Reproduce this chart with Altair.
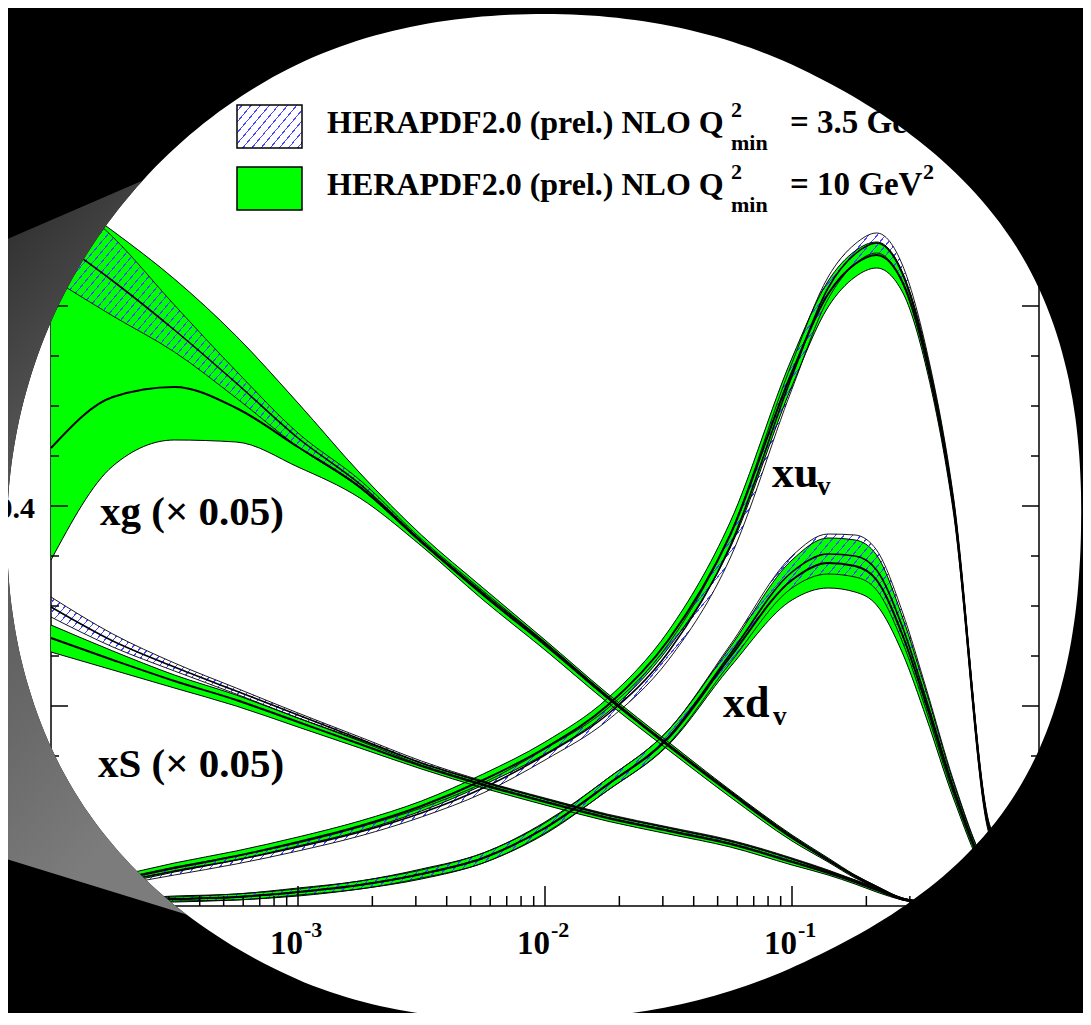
import math
import pandas as pd
import altair as alt

# ---------------- values ----------------
X = [1e-4, 1.78e-4, 3.16e-4, 5.62e-4, 1e-3, 1.78e-3, 3.16e-3, 5.62e-3, 1e-2, 1.78e-2,
     3.16e-2, 5.62e-2, 0.1, 0.14, 0.18, 0.22, 0.28, 0.35, 0.45, 0.63, 1.0]

# xg (x 0.05): green = Q2min 10 GeV2, hatched = Q2min 3.5 GeV2
XG_G_HI = [0.719, 0.675, 0.627, 0.570, 0.503, 0.433, 0.371, 0.318, 0.266, 0.213, 0.164, 0.116, 0.071, 0.048, 0.031, 0.020, 0.008, 0.004, 0.002, 0.0005, 0.0]
XG_G_MID = [0.458, 0.509, 0.519, 0.498, 0.459, 0.419, 0.364, 0.311, 0.261, 0.209, 0.160, 0.113, 0.068, 0.046, 0.030, 0.019, 0.007, 0.0035, 0.0015, 0.0004, 0.0]
XG_G_LO = [0.346, 0.440, 0.466, 0.464, 0.439, 0.408, 0.360, 0.306, 0.256, 0.204, 0.156, 0.109, 0.065, 0.044, 0.028, 0.018, 0.006, 0.003, 0.001, 0.0003, 0.0]
XG_H_HI = [0.721, 0.669, 0.601, 0.535, 0.473, 0.426, 0.367, 0.315, 0.264, 0.211, 0.162, 0.115, 0.070, 0.047, 0.030, 0.019, 0.007, 0.0035, 0.0015, 0.0004, 0.0]
XG_H_MID = [0.670, 0.625, 0.576, 0.523, 0.468, 0.422, 0.365, 0.313, 0.263, 0.210, 0.161, 0.114, 0.069, 0.046, 0.030, 0.019, 0.007, 0.0033, 0.0013, 0.0004, 0.0]
XG_H_LO = [0.628, 0.590, 0.554, 0.508, 0.459, 0.418, 0.363, 0.311, 0.261, 0.208, 0.160, 0.113, 0.068, 0.045, 0.029, 0.018, 0.006, 0.003, 0.001, 0.0003, 0.0]

# xS (x 0.05)
XS_G_HI = [0.281, 0.255, 0.231, 0.211, 0.188, 0.166, 0.143, 0.124, 0.107, 0.091, 0.078, 0.065, 0.047, 0.035, 0.026, 0.018, 0.008, 0.004, 0.0015, 0.0003, 0.0]
XS_G_MID = [0.268, 0.246, 0.225, 0.206, 0.184, 0.162, 0.140, 0.121, 0.104, 0.088, 0.075, 0.062, 0.044, 0.033, 0.024, 0.016, 0.007, 0.003, 0.001, 0.0002, 0.0]
XS_G_LO = [0.254, 0.236, 0.218, 0.200, 0.179, 0.158, 0.137, 0.118, 0.101, 0.085, 0.072, 0.059, 0.041, 0.031, 0.022, 0.014, 0.006, 0.002, 0.0007, 0.0001, 0.0]
XS_H_HI = [0.309, 0.272, 0.243, 0.218, 0.193, 0.169, 0.145, 0.125, 0.108, 0.092, 0.079, 0.066, 0.048, 0.036, 0.026, 0.018, 0.008, 0.004, 0.0015, 0.0003, 0.0]
XS_H_MID = [0.299, 0.265, 0.239, 0.215, 0.191, 0.167, 0.143, 0.124, 0.107, 0.091, 0.078, 0.065, 0.047, 0.035, 0.025, 0.017, 0.0075, 0.0035, 0.0012, 0.0002, 0.0]
XS_H_LO = [0.289, 0.259, 0.235, 0.212, 0.188, 0.165, 0.141, 0.122, 0.105, 0.089, 0.076, 0.063, 0.045, 0.034, 0.024, 0.016, 0.007, 0.003, 0.001, 0.0001, 0.0]

# xu_v
XU_G_HI = [0.016, 0.029, 0.043, 0.055, 0.069, 0.085, 0.105, 0.132, 0.164, 0.207, 0.275, 0.384, 0.548, 0.625, 0.655, 0.664, 0.634, 0.554, 0.408, 0.081, 0.0]
XU_G_MID = [0.013, 0.025, 0.038, 0.050, 0.064, 0.080, 0.100, 0.126, 0.158, 0.200, 0.266, 0.371, 0.534, 0.612, 0.642, 0.651, 0.624, 0.546, 0.401, 0.076, 0.0]
XU_G_LO = [0.010, 0.021, 0.034, 0.046, 0.060, 0.075, 0.095, 0.121, 0.152, 0.193, 0.258, 0.358, 0.520, 0.599, 0.629, 0.638, 0.614, 0.538, 0.394, 0.071, 0.0]
XU_H_HI = [0.015, 0.026, 0.039, 0.050, 0.063, 0.079, 0.098, 0.123, 0.157, 0.197, 0.262, 0.372, 0.543, 0.629, 0.662, 0.673, 0.641, 0.557, 0.410, 0.082, 0.0]
XU_H_MID = [0.012, 0.023, 0.035, 0.046, 0.059, 0.074, 0.093, 0.118, 0.151, 0.191, 0.254, 0.360, 0.530, 0.618, 0.652, 0.663, 0.632, 0.550, 0.404, 0.078, 0.0]
XU_H_LO = [0.009, 0.020, 0.031, 0.042, 0.055, 0.070, 0.089, 0.113, 0.146, 0.185, 0.246, 0.348, 0.517, 0.607, 0.642, 0.653, 0.623, 0.543, 0.398, 0.074, 0.0]

# xd_v
XD_G_HI = [0.005, 0.007, 0.010, 0.012, 0.018, 0.025, 0.037, 0.053, 0.084, 0.127, 0.176, 0.259, 0.346, 0.368, 0.366, 0.351, 0.289, 0.214, 0.124, 0.035, 0.0]
XD_G_MID = [0.003, 0.005, 0.007, 0.009, 0.014, 0.021, 0.032, 0.048, 0.078, 0.121, 0.168, 0.249, 0.326, 0.343, 0.340, 0.326, 0.271, 0.201, 0.116, 0.031, 0.0]
XD_G_LO = [0.001, 0.003, 0.004, 0.006, 0.010, 0.017, 0.027, 0.043, 0.072, 0.115, 0.161, 0.239, 0.306, 0.318, 0.314, 0.301, 0.253, 0.188, 0.108, 0.027, 0.0]
XD_H_HI = [0.005, 0.007, 0.009, 0.012, 0.017, 0.025, 0.036, 0.053, 0.083, 0.127, 0.176, 0.261, 0.350, 0.372, 0.371, 0.356, 0.294, 0.217, 0.126, 0.035, 0.0]
XD_H_MID = [0.003, 0.005, 0.007, 0.009, 0.014, 0.021, 0.032, 0.048, 0.078, 0.121, 0.169, 0.252, 0.334, 0.352, 0.350, 0.336, 0.279, 0.206, 0.119, 0.032, 0.0]
XD_H_LO = [0.001, 0.003, 0.005, 0.006, 0.011, 0.017, 0.028, 0.043, 0.073, 0.115, 0.162, 0.243, 0.318, 0.332, 0.329, 0.316, 0.264, 0.195, 0.112, 0.029, 0.0]

PDF_NAMES = ["xg", "xS", "xuv", "xdv"]
PDF_VALUES = {
    "xg": (XG_G_LO, XG_G_MID, XG_G_HI, XG_H_LO, XG_H_MID, XG_H_HI),
    "xS": (XS_G_LO, XS_G_MID, XS_G_HI, XS_H_LO, XS_H_MID, XS_H_HI),
    "xuv": (XU_G_LO, XU_G_MID, XU_G_HI, XU_H_LO, XU_H_MID, XU_H_HI),
    "xdv": (XD_G_LO, XD_G_MID, XD_G_HI, XD_H_LO, XD_H_MID, XD_H_HI),
}

# text content
LEGEND_MAIN = ["HERAPDF2.0 (prel.) NLO Q", "HERAPDF2.0 (prel.) NLO Q"]
LEGEND_VALUE = ["= 3.5 GeV", "= 10 GeV"]
CURVE_LABELS = ["xg (\u00d7 0.05)", "xS (\u00d7 0.05)"]
CURVE_LABEL_X = [1.58e-4, 1.55e-4]
CURVE_LABEL_Y = [0.381, 0.129]
VALENCE_LABELS = ["xu", "xd"]
VALENCE_X = [0.0829, 0.0526]
VALENCE_Y = [0.419, 0.189]
VALENCE_SUB_X = [0.1262, 0.0838]
VALENCE_SUB_Y = [0.411, 0.181]
X_TICK_DECADES = [1e-3, 1e-2, 1e-1]
X_TICK_EXPONENTS = ["-3", "-2", "-1"]
Y_TICK_LABELS = [0.4]
X_MAJOR = [1e-4, 1e-3, 1e-2, 1e-1, 1.0]
X_MINOR = [k * 10.0 ** e for e in range(-4, 0) for k in range(2, 10)]
Y_MAJOR = [0.0, 0.2, 0.4, 0.6, 0.8]
Y_MINOR = [0.05, 0.1, 0.15, 0.25, 0.3, 0.35, 0.45, 0.5, 0.55, 0.65, 0.7, 0.75, 0.85]

# ---------------- layout / style ----------------
W, H = 988, 898          # plot area in px
Y_MAX = 0.898            # 1000 px per unit
OX, OY = 51, 8           # plot origin on the page
GREEN = "#00ff00"
FONT = "Liberation Serif"

# lens: centre and radius (px) every 30 degrees (0 = right, 90 = down)
LENS_CENTER = (545, 530)
LENS_RADII = [536, 539, 503, 490, 514, 538, 538, 535, 528, 516, 528, 550]
CONE_TOP = (-20, 251)
CONE_BOTTOM = [(0, 857), (-20, 852)]
CONE_ANGLES = (221, 133)


def lens_radius(deg):
    n = len(LENS_RADII)
    u = (deg % 360) / 30.0
    i = int(math.floor(u)) % n
    t = u - math.floor(u)
    p0, p1, p2, p3 = (LENS_RADII[(i - 1) % n], LENS_RADII[i], LENS_RADII[(i + 1) % n], LENS_RADII[(i + 2) % n])
    return 0.5 * (2 * p1 + (-p0 + p2) * t + (2 * p0 - 5 * p1 + 4 * p2 - p3) * t * t
                  + (-p0 + 3 * p1 - 3 * p2 + p3) * t ** 3)


def lens_point(deg):
    r = lens_radius(deg)
    a = math.radians(deg)
    return (LENS_CENTER[0] + r * math.cos(a), LENS_CENTER[1] + r * math.sin(a))


def poly(points):
    s = "M%.1f,%.1f" % (points[0][0] - OX, points[0][1] - OY)
    for px, py in points[1:]:
        s += "L%.1f,%.1f" % (px - OX, py - OY)
    return s + "Z"


hole = [lens_point(d / 2.0) for d in range(720, 0, -2)]          # counter-clockwise hole
MASK_PATH = "M-200,-200L1300,-200L1300,1300L-200,1300Z" + poly(hole)
cone_edge = [lens_point(d / 2.0) for d in range(CONE_ANGLES[0] * 2, CONE_ANGLES[1] * 2 - 1, -2)]
CONE_PATH = poly([CONE_TOP] + cone_edge + CONE_BOTTOM)


def hatch(w, h, spacing=6.5, lw=1.0, theta=50.0, color="#4646ff"):
    t = math.radians(theta)
    s, c = math.sin(t), math.cos(t)
    span = w * s + h * c
    k = span / (w * w * s * s + h * h * c * c)
    clear = "rgba(70,70,255,0)"
    stops = []
    n = int(span / spacing)
    for i in range(n + 1):
        a = (i * spacing + spacing / 2) / span
        b = a + lw / span
        if b >= 1:
            break
        a, b = round(a, 6), round(b, 6)
        stops += [alt.GradientStop(color=clear, offset=a), alt.GradientStop(color=color, offset=a),
                  alt.GradientStop(color=color, offset=b), alt.GradientStop(color=clear, offset=b)]
    return alt.LinearGradient(gradient="linear", stops=stops, x1=0, y1=0, x2=k * w * s, y2=k * h * c)


xs = alt.Scale(type="log", domain=[1e-4, 1.0], nice=False)
ys = alt.Scale(domain=[0, Y_MAX], nice=False, zero=False)


def XE(f="x"):
    return alt.X(f + ":Q", scale=xs, axis=None)


def YE(f):
    return alt.Y(f + ":Q", scale=ys, axis=None)


rows = []
for name in PDF_NAMES:
    g_lo, g_mid, g_hi, h_lo, h_mid, h_hi = PDF_VALUES[name]
    for i, xv in enumerate(X):
        rows.append(dict(pdf=name, x=xv, g_lo=g_lo[i], g_mid=g_mid[i], g_hi=g_hi[i],
                         h_lo=h_lo[i], h_mid=h_mid[i], h_hi=h_hi[i]))
df = pd.DataFrame(rows)
base = alt.Chart(df)
ONE = pd.DataFrame({"k": [0]})

layers = []
# green bands
layers.append(base.mark_area(color=GREEN, opacity=1, interpolate="monotone").encode(
    x=XE(), y=YE("g_lo"), y2=alt.Y2("g_hi:Q"), detail="pdf:N"))
# hatched bands
for name in PDF_NAMES:
    sub = df[df.pdf == name]
    hh = (sub.h_hi.max() - sub.h_lo.min()) * (H / Y_MAX)
    layers.append(alt.Chart(sub).mark_area(color=hatch(W, hh), opacity=1, interpolate="monotone").encode(
        x=XE(), y=YE("h_lo"), y2=alt.Y2("h_hi:Q")))
# band lines
for col, sw in [("g_lo", 1.0), ("g_hi", 1.0), ("g_mid", 2.0), ("h_lo", 0.9), ("h_hi", 0.9), ("h_mid", 1.6)]:
    layers.append(base.mark_line(color="black", strokeWidth=sw, interpolate="monotone").encode(
        x=XE(), y=YE(col), detail="pdf:N"))

# ticks (pointing inwards)
xmaj = pd.DataFrame({"v": X_MAJOR})
xmin = pd.DataFrame({"v": X_MINOR})
ymaj = pd.DataFrame({"v": Y_MAJOR})
ymin = pd.DataFrame({"v": Y_MINOR})
layers.append(alt.Chart(xmaj).mark_tick(orient="vertical", color="black", thickness=1.5, size=20, opacity=1)
              .encode(x=XE("v"), y=alt.value(H - 10)))
layers.append(alt.Chart(xmin).mark_tick(orient="vertical", color="black", thickness=1.5, size=10, opacity=1)
              .encode(x=XE("v"), y=alt.value(H - 5)))
for xpos_maj, xpos_min in [(8.5, 4), (W - 8.5, W - 4)]:
    layers.append(alt.Chart(ymaj).mark_tick(orient="horizontal", color="black", thickness=1.5, size=17, opacity=1)
                  .encode(y=YE("v"), x=alt.value(xpos_maj)))
    layers.append(alt.Chart(ymin).mark_tick(orient="horizontal", color="black", thickness=1.5, size=8, opacity=1)
                  .encode(y=YE("v"), x=alt.value(xpos_min)))

# tick labels
xl = pd.DataFrame({"x": X_TICK_DECADES, "b": ["10"] * len(X_TICK_DECADES), "e": X_TICK_EXPONENTS})
layers.append(alt.Chart(xl).mark_text(font=FONT, fontSize=33, fontWeight="bold", align="right", dx=5,
                                      baseline="alphabetic", color="black")
              .encode(x=XE(), y=alt.value(946), text="b:N"))
layers.append(alt.Chart(xl).mark_text(font=FONT, fontSize=22, fontWeight="bold", align="left", dx=6,
                                      baseline="alphabetic", color="black")
              .encode(x=XE(), y=alt.value(929), text="e:N"))
yl = pd.DataFrame({"v": Y_TICK_LABELS, "t": ["%.1f" % v for v in Y_TICK_LABELS]})
layers.append(alt.Chart(yl).mark_text(font=FONT, fontSize=30, fontWeight="bold", align="right",
                                      baseline="middle", dy=3, color="black")
              .encode(y=YE("v"), x=alt.value(-16), text="t:N"))

# curve labels
cl = pd.DataFrame({"x": CURVE_LABEL_X, "y": CURVE_LABEL_Y, "t": CURVE_LABELS})
layers.append(alt.Chart(cl).mark_text(font=FONT, fontSize=41, fontWeight="bold", align="left",
                                      baseline="alphabetic", color="black")
              .encode(x=XE(), y=YE("y"), text="t:N"))
vl = pd.DataFrame({"x": VALENCE_X, "y": VALENCE_Y, "t": VALENCE_LABELS})
layers.append(alt.Chart(vl).mark_text(font=FONT, fontSize=44, fontWeight="bold", align="left",
                                      baseline="alphabetic", color="black")
              .encode(x=XE(), y=YE("y"), text="t:N"))
vs = pd.DataFrame({"x": VALENCE_SUB_X, "y": VALENCE_SUB_Y, "t": ["v", "v"]})
layers.append(alt.Chart(vs).mark_text(font=FONT, fontSize=27, fontWeight="bold", align="left",
                                      baseline="alphabetic", color="black")
              .encode(x=XE(), y=YE("y"), text="t:N"))


# legend
def txt(t, px, py, size):
    return alt.Chart(ONE).mark_text(text=t, font=FONT, fontSize=size, fontWeight="bold", align="left",
                                    baseline="alphabetic", color="black").encode(
        x=alt.value(px - OX), y=alt.value(py - OY))


layers.append(alt.Chart(ONE).mark_rect(fill=hatch(65, 43, spacing=7.0), stroke="black", strokeWidth=1.5)
              .encode(x=alt.value(237 - OX), x2=alt.value(302 - OX), y=alt.value(105 - OY), y2=alt.value(148 - OY)))
layers.append(alt.Chart(ONE).mark_rect(fill=GREEN, stroke="black", strokeWidth=1.5)
              .encode(x=alt.value(237 - OX), x2=alt.value(302 - OX), y=alt.value(167 - OY), y2=alt.value(210 - OY)))
for i, base_y in enumerate([133, 195]):
    layers.append(txt(LEGEND_MAIN[i], 327, base_y, 32))
    layers.append(txt("2", 731, base_y - 16, 22))
    layers.append(txt("min", 731, base_y + 17, 22))
    layers.append(txt(LEGEND_VALUE[i], 790, base_y, 33))
    layers.append(txt("2", 790 + (141 if i == 0 else 133), base_y - 16, 22))

# lens mask and grey cone
layers.append(alt.Chart(ONE).mark_point(shape=MASK_PATH, size=4, filled=True, color="black", opacity=1,
                                        strokeWidth=0).encode(x=alt.value(0), y=alt.value(0)))
cone_fill = alt.LinearGradient(gradient="linear", x1=0, y1=0, x2=0.3, y2=1, stops=[
    alt.GradientStop(color="#262626", offset=0), alt.GradientStop(color="#505050", offset=0.35),
    alt.GradientStop(color="#6a6a6a", offset=0.75), alt.GradientStop(color="#7c7c7c", offset=1)])
layers.append(alt.Chart(ONE).mark_point(shape=CONE_PATH, size=4, filled=True, color=cone_fill, opacity=1,
                                        strokeWidth=0).encode(x=alt.value(0), y=alt.value(0)))

chart = alt.layer(*layers).properties(
    width=W, height=H,
    padding={"left": 43, "top": 0, "right": 44, "bottom": 107},
    autosize=alt.AutoSizeParams(type="none"),
    background="white",
).configure_view(stroke="black", strokeWidth=1.5)

chart.save("out.html", embed_options={"renderer": "svg", "actions": False})
